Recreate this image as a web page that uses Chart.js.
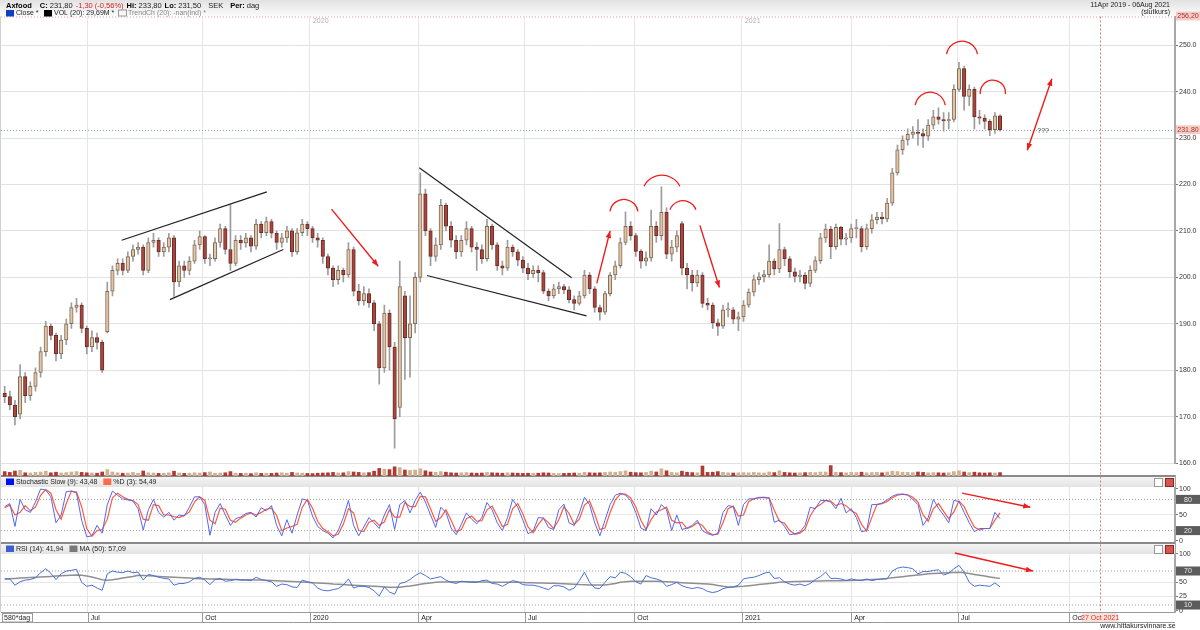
<!DOCTYPE html>
<html>
<head>
<meta charset="utf-8">
<script src="https://cdn.jsdelivr.net/npm/chart.js@4.4.1/dist/chart.umd.min.js"></script>
<style>
html, body { margin: 0; padding: 0; background: #fff; }
</style>
</head>
<body>
<canvas id="myChart" width="1200" height="630"></canvas>
<script>
// Axfood, 3-day candles, 11 Apr 2019 - 06 Aug 2021
const opens = [
  175.0,174.3,172.5,170.5,178.6,174.5,176.5,179.5,184.0,189.5,
  187.5,183.5,186.5,190.0,193.5,194.0,189.0,185.0,187.0,186.0,
  188.3,197.0,201.5,203.0,201.5,204.5,206.0,206.5,201.5,207.5,
  208.0,205.5,206.5,208.5,199.0,202.5,201.5,203.5,207.0,208.8,
  204.0,204.0,207.5,210.5,206.0,203.0,208.0,207.4,208.5,206.7,
  211.5,209.6,212.0,209.5,207.5,208.5,210.0,205.5,209.6,211.5,
  210.5,208.5,208.0,204.5,202.0,199.5,201.5,200.5,206.0,197.0,
  195.0,196.5,194.5,190.0,180.5,192.3,185.0,172.0,196.0,187.0,
  190.0,200.0,218.0,210.0,204.5,207.0,215.5,211.0,208.0,205.5,
  208.0,210.5,206.5,206.0,204.0,211.0,207.0,202.5,202.0,206.5,
  205.5,203.7,202.0,200.8,201.5,201.0,197.0,196.0,197.5,198.0,
  197.3,195.2,194.4,196.0,200.5,197.5,193.5,192.5,196.5,200.5,
  202.5,207.5,211.0,209.0,205.6,203.5,204.2,211.0,209.0,214.0,
  205.0,206.5,211.6,202.0,200.5,198.8,200.5,194.4,194.0,190.2,
  189.5,193.0,193.0,191.0,191.5,194.0,196.8,199.5,200.1,200.6,
  203.5,201.8,206.0,204.0,201.2,200.2,200.5,198.7,201.5,203.6,
  208.5,210.4,206.6,210.8,208.2,208.5,210.5,210.5,206.6,210.5,
  212.4,213.0,212.6,216.0,222.5,227.5,229.6,230.8,231.3,231.0,
  230.4,232.8,234.6,234.0,233.7,234.0,240.5,245.0,239.0,240.5,
  234.6,234.3,233.6,231.8,234.8
];
const closes = [
  174.3,172.5,170.0,178.6,174.5,176.5,179.5,184.0,189.5,187.5,
  183.5,186.5,190.0,193.5,194.0,189.0,185.0,187.0,186.0,180.0,
  197.0,201.5,203.0,201.5,204.5,206.0,206.5,201.5,207.5,208.0,
  205.5,206.5,208.5,199.0,202.5,201.5,203.5,207.0,208.8,204.0,
  204.0,207.5,210.5,206.0,203.0,208.0,207.4,208.5,206.7,211.5,
  209.6,212.0,209.5,207.5,208.5,210.0,205.5,209.6,211.5,210.5,
  208.5,208.0,204.5,202.0,199.5,201.5,200.5,206.0,197.0,195.0,
  196.5,194.5,190.0,180.5,192.3,185.0,169.5,198.0,187.0,190.0,
  200.0,218.0,210.0,204.5,207.0,215.5,211.0,208.0,205.5,208.0,
  210.5,206.5,206.0,204.0,211.0,207.0,202.5,202.0,206.5,205.5,
  203.7,202.0,200.8,201.5,201.0,197.0,196.0,197.5,198.0,197.3,
  195.2,194.4,196.0,200.5,197.5,193.5,192.5,196.5,200.5,202.5,
  207.5,211.0,209.0,205.6,203.5,204.2,211.0,209.0,214.0,205.0,
  206.5,209.0,202.0,200.5,198.8,200.5,194.4,194.0,190.2,189.5,
  193.0,193.0,191.0,191.5,194.0,196.8,199.5,200.1,200.6,203.5,
  201.8,206.0,204.0,201.2,200.2,200.5,198.7,201.5,203.6,208.5,
  210.4,206.6,210.8,208.2,208.5,210.5,210.5,206.6,210.5,212.4,
  213.0,212.6,216.0,222.5,227.5,229.6,230.8,231.3,231.0,230.4,
  232.8,234.6,234.0,233.7,234.0,240.5,245.0,239.0,240.5,234.6,
  234.3,233.6,231.8,234.8,231.8
];
const highs = [
  176.5,175.5,173.5,181.2,179.5,177.5,180.5,185.0,190.5,190.0,
  188.0,187.5,191.0,194.5,195.5,194.5,189.5,188.5,188.0,186.5,
  199.0,202.5,204.0,204.0,205.5,207.0,207.5,207.0,208.5,209.5,
  208.5,207.5,209.5,209.0,203.5,203.5,204.5,208.0,210.0,209.0,
  205.0,208.5,211.5,211.0,215.7,209.0,209.0,209.5,209.0,212.5,
  212.0,213.0,212.5,210.0,209.5,211.0,210.5,210.5,212.5,212.0,
  211.0,209.5,208.5,205.0,202.5,202.5,202.0,207.5,206.5,198.5,
  198.0,197.5,195.0,190.5,194.0,193.0,186.0,203.5,197.0,196.0,
  201.0,222.5,219.0,210.5,208.5,216.8,216.0,212.0,209.0,209.0,
  212.0,211.0,207.5,207.0,212.5,211.5,207.5,203.5,208.0,207.0,
  206.0,204.5,203.0,202.5,202.5,201.5,197.5,198.5,199.0,198.5,
  198.0,196.0,197.0,201.5,201.0,198.0,194.0,197.0,201.0,203.5,
  208.5,214.1,212.0,209.5,206.0,205.5,214.5,212.0,219.5,215.0,
  208.0,210.0,212.0,203.0,201.5,201.5,201.0,195.5,194.5,191.0,
  194.0,194.5,193.5,192.5,195.0,197.5,200.5,201.0,201.5,207.0,
  204.0,211.6,206.5,204.5,202.0,201.5,201.0,202.5,204.5,209.5,
  211.5,211.0,211.5,211.0,209.5,211.5,212.5,211.0,211.5,213.5,
  214.0,214.0,217.0,223.5,228.5,230.5,232.0,232.5,234.0,232.0,
  234.0,236.0,236.5,235.5,235.5,241.5,246.3,245.5,241.5,241.0,
  236.0,235.0,234.0,235.5,235.0
];
const lows = [
  173.0,171.5,168.2,169.5,173.0,173.5,175.5,178.5,183.0,186.5,
  182.0,182.5,185.5,189.0,192.5,188.0,183.5,184.0,184.5,179.5,
  188.0,196.0,200.5,200.5,201.0,203.5,205.0,200.5,201.0,206.5,
  204.5,204.5,205.5,195.9,198.0,200.0,200.5,203.0,206.0,203.0,
  202.5,203.5,206.5,205.0,201.5,202.5,206.0,206.5,205.5,206.0,
  208.5,209.0,208.5,206.0,206.5,207.5,204.5,205.0,209.0,209.0,
  207.5,206.5,203.0,200.5,198.0,198.5,199.0,200.0,196.0,194.0,
  194.0,193.5,188.5,177.0,179.5,180.0,163.2,170.0,178.0,178.5,
  188.0,199.0,209.0,202.5,203.5,206.0,210.0,206.5,204.0,204.5,
  207.0,205.5,201.5,203.0,203.5,206.0,201.5,200.5,201.5,204.5,
  202.5,201.0,199.5,200.0,199.0,196.5,195.0,195.5,196.5,196.5,
  194.5,193.0,194.0,195.5,196.5,192.5,190.8,192.0,196.0,199.5,
  202.0,207.0,208.0,204.5,202.0,202.5,203.5,207.5,208.0,204.0,
  203.5,205.5,200.5,197.5,197.0,198.0,193.5,193.0,189.0,187.5,
  189.0,191.5,190.0,188.5,190.5,193.5,196.0,198.5,199.0,200.0,
  200.5,201.0,202.5,200.0,199.0,199.0,197.5,198.0,201.0,203.0,
  207.5,204.0,206.0,207.0,207.0,207.5,208.5,205.5,206.0,209.5,
  211.5,211.5,212.0,215.5,222.0,226.5,228.5,230.0,228.5,228.0,
  229.5,232.0,233.0,231.5,232.0,233.5,240.0,236.0,237.0,232.0,
  233.0,232.0,230.5,231.0,231.5
];
const volumes = [
  2.2,1.8,2.5,2.8,1.6,1.5,1.8,2.0,2.4,1.6,
  1.9,1.5,1.7,2.0,2.2,1.8,1.6,1.5,1.4,2.0,
  3.2,2.0,1.6,1.4,1.5,1.8,1.4,2.5,1.6,1.5,
  1.3,1.4,1.6,2.4,1.5,1.3,1.4,1.6,1.5,1.7,
  2.0,1.4,1.5,1.6,2.2,1.4,1.3,1.4,1.2,1.6,
  1.3,1.4,1.3,1.5,1.6,1.4,1.8,1.5,1.4,1.3,
  1.2,1.4,1.5,1.6,1.8,1.5,1.6,2.2,2.0,1.8,
  1.6,1.7,2.4,3.8,3.4,3.2,4.6,4.2,3.0,2.8,
  3.0,3.6,2.6,2.0,1.8,2.2,1.9,1.6,1.5,1.6,
  1.7,1.5,1.4,1.5,1.8,1.6,1.5,1.4,1.6,1.5,
  1.4,1.3,1.4,1.3,1.4,1.6,1.5,1.3,1.2,1.3,
  1.4,1.5,1.4,1.8,1.6,1.5,1.6,1.8,2.0,1.9,
  2.2,2.6,1.9,1.7,1.6,1.8,2.4,2.0,3.6,2.6,
  1.8,1.6,2.4,1.9,1.7,1.6,5.0,1.8,1.9,2.2,
  1.8,1.6,1.5,1.6,1.7,1.6,1.8,1.6,1.5,2.0,
  1.7,2.6,1.8,1.6,1.5,1.6,1.7,1.8,1.7,2.0,
  2.0,5.2,1.8,1.7,1.6,1.8,1.7,1.9,1.6,1.7,
  1.8,1.6,2.0,2.4,2.2,1.9,1.8,1.7,2.0,1.8,
  1.6,1.7,1.6,1.5,1.6,2.2,2.6,2.0,1.7,1.9,
  1.6,1.5,1.6,1.5,1.7
];
const stochK = [
  66,72,28,80,60,55,75,100,98,85,
  35,50,95,96,92,40,8,10,30,15,
  70,96,88,81,79,77,62,21,60,80,
  55,46,55,40,50,48,65,85,85,70,
  11,55,72,50,30,43,46,53,55,46,
  64,58,68,30,10,41,15,50,81,78,
  48,28,20,15,6,20,45,78,30,10,
  27,45,35,24,50,70,22,70,78,54,
  78,94,75,50,26,65,55,25,12,32,
  54,42,33,45,74,60,35,20,45,80,
  65,40,14,19,45,44,26,22,60,71,
  35,30,54,84,70,35,10,40,70,88,
  92,88,78,55,25,20,62,50,70,60,
  20,50,22,25,30,40,20,14,11,15,
  55,68,66,30,70,81,81,84,84,82,
  36,40,28,12,14,17,30,65,62,78,
  78,75,62,82,54,62,45,18,20,70,
  70,73,79,86,90,90,88,80,70,30,
  45,80,63,50,35,78,76,55,35,18,
  24,24,24,55,43
];
const stochD = [
  64,69,50,55,68,58,65,88,99,92,
  60,42,72,96,94,66,24,9,20,22,
  42,83,92,85,80,78,70,42,40,70,
  68,50,50,47,45,49,56,75,85,78,
  40,33,63,61,40,36,44,50,54,50,
  55,61,63,49,20,25,28,32,65,80,
  63,38,24,18,10,13,32,62,54,20,
  18,36,40,30,37,60,46,46,74,66,
  66,86,85,62,38,45,60,40,18,22,
  43,48,38,39,60,67,48,28,32,62,
  72,52,27,16,32,44,35,24,41,66,
  53,32,42,69,77,52,22,25,55,79,
  90,90,83,66,40,22,41,56,60,65,
  40,35,36,24,28,35,30,17,12,13,
  35,62,67,48,50,76,81,83,84,83,
  59,38,34,20,13,15,23,48,64,70,
  78,77,68,72,68,58,53,32,19,45,
  70,72,76,83,88,90,89,84,75,50,
  38,62,72,57,43,56,77,66,45,27,
  21,24,24,40,54
];
const rsi = [
  56,56,45,51,54,55,58,67,74,66,
  55,65,70,71,73,50,43,45,40,36,
  65,70,68,67,70,67,68,54,64,62,
  59,57,56,45,48,48,51,57,59,54,
  46,55,57,52,53,55,54,54,53,59,
  55,53,51,43,47,46,42,41,54,51,
  49,40,36,35,37,39,45,56,40,43,
  43,41,35,26,42,33,29,48,50,55,
  62,67,62,56,58,60,54,50,48,52,
  51,50,50,53,54,48,47,43,48,53,
  51,46,45,45,43,40,37,44,44,42,
  36,40,53,68,50,40,39,50,60,58,
  68,66,60,51,47,62,58,56,53,43,
  46,50,44,41,39,41,39,34,32,34,
  39,41,42,45,56,58,59,62,66,68,
  57,58,51,47,45,47,44,48,55,60,
  68,57,57,56,53,56,54,53,56,53,
  55,56,56,70,75,77,76,74,65,69,
  69,71,72,63,66,74,80,68,50,43,
  45,44,43,49,42
];
const rsiMa = [
  56,56.5,57,57.5,58,58.5,59,59.5,60,60.5,
  61,61.5,62,62.5,63,62.5,61,59.5,57,54.5,
  53.5,54.5,56,57.5,59,60.5,62.5,62,61.5,61,
  60.5,60,59.5,59,58.5,58,57.5,57,56.5,56.2,
  56,55.8,55.6,55.4,55.2,55,54.8,54.6,54.4,54.2,
  54,53.7,53.4,53,52.5,52,51.5,51,50.5,50,
  49.5,49,48.5,48,47,46.5,46,45.5,45,44.5,
  44,43.5,43,42.5,42,41.5,41.3,41.5,42.5,43.5,
  45,46.5,48,49,50,50.5,50.8,51,51,51,
  51,51,51,50.8,50.5,50.3,50.2,50,50,50,
  50,49.8,49.5,49.3,49,48.8,48.5,48.2,48,47.5,
  47,46.5,46,45.8,45.5,45.3,45.2,45.5,46.5,48,
  50,51,52,52,52,52,52,51.8,51.5,51,
  50.5,50,49.5,49,48.5,48,47.5,47,46,44.5,
  43,42,42,42.5,43,44,45,46,47,48,
  49,50,50.5,51,51.3,51.5,51.8,52,52.2,52.5,
  52.7,53,53,53,53.2,53.4,53.6,54,54.5,55,
  55.5,56,57,58,59,60,61,62,63,64,
  65,65.5,66,66.5,67,67.5,68,67,65.5,64,
  62.5,61,59.5,58,57
];

// x axis: candle index of each quarter start
const tickPos = [16.2, 38.5, 59.5, 80.6, 101.4, 122.7, 143.7, 165, 185.8, 207.5];
const tickLabels = ['Jul', 'Oct', '2020', 'Apr', 'Jul', 'Oct', '2021', 'Apr', 'Jul', 'Oct'];
const yearMarks = [[59.5, '2020'], [143.7, '2021']];
const priceTicks = [160, 170, 180, 190, 200, 210, 220, 230, 240, 250];
const stochTicks = [0, 20, 50, 80, 100];
const rsiTicks = [0, 10, 25, 50, 70, 100];
const lastClose = 231.8;
const topPrice = 256.2;
const futureMark = 213.5; // 27 Oct 2021

// drawn annotations, in (candle index, value)
const trendLines = [
  [22.8, 208.0, 51.1, 218.4],
  [32.2, 195.2, 54.3, 206.0],
  [80.8, 223.6, 110.5, 199.9],
  [82.3, 200.4, 113.4, 191.7]
];
const priceArrows = [
  [63.7, 214.7, 72.8, 202.4, false],
  [115.4, 198.7, 118.0, 210.0, false],
  [135.5, 211.2, 139.3, 197.8, false],
  [199.3, 227.4, 204.1, 242.8, true]
];
const topArcs = [ // index, price at top, half width px, depth px
  [120.7, 216.8, 14, 12],
  [128.1, 222.0, 18, 11],
  [132.2, 216.5, 13, 9],
  [180.4, 239.9, 15, 13],
  [186.6, 250.9, 15.5, 13],
  [192.6, 242.5, 12.5, 14]
];
const stochArrow = [186.6, 92, 199.9, 65];
const rsiArrow = [185.2, 101.8, 200.4, 70];

const FONT = '"Liberation Sans", Arial, sans-serif';
Chart.defaults.font.family = FONT;
Chart.defaults.font.size = 7;
Chart.defaults.color = '#333';

const idx = closes.map((c, i) => i);
const isUp = idx.map(i => closes[i] >= opens[i]);

function dotted(ctx, x1, y1, x2, y2, color, dash) {
  ctx.save();
  ctx.strokeStyle = color;
  ctx.lineWidth = 1;
  ctx.setLineDash(dash || [1, 2]);
  ctx.beginPath();
  ctx.moveTo(x1, y1);
  ctx.lineTo(x2, y2);
  ctx.stroke();
  ctx.restore();
}

function head(ctx, x1, y1, x2, y2) {
  const a = Math.atan2(y2 - y1, x2 - x1), L = 7, W = 2.8;
  ctx.beginPath();
  ctx.moveTo(x2, y2);
  ctx.lineTo(x2 - L * Math.cos(a) + W * Math.sin(a), y2 - L * Math.sin(a) - W * Math.cos(a));
  ctx.lineTo(x2 - L * Math.cos(a) - W * Math.sin(a), y2 - L * Math.sin(a) + W * Math.cos(a));
  ctx.closePath();
  ctx.fill();
}

function arrow(ctx, x1, y1, x2, y2, both) {
  ctx.beginPath();
  ctx.moveTo(x1, y1);
  ctx.lineTo(x2, y2);
  ctx.stroke();
  head(ctx, x1, y1, x2, y2);
  if (both) head(ctx, x2, y2, x1, y1);
}

function strip(ctx, left, right, top) {
  const g = ctx.createLinearGradient(0, top, 0, top + 11);
  g.addColorStop(0, '#f6f6f6');
  g.addColorStop(1, '#e3e3e3');
  ctx.fillStyle = g;
  ctx.fillRect(left, top, right - left, 11);
  ctx.fillStyle = '#8a8a8a';
  ctx.fillRect(left - 1, top - 1, right - left + 1, 2);
  // little buttons at the right
  ctx.fillStyle = '#fff';
  ctx.strokeStyle = '#999';
  ctx.lineWidth = 1;
  ctx.fillRect(right - 21, top + 2.5, 8, 8);
  ctx.strokeRect(right - 20.5, top + 2.5, 8, 8);
  ctx.fillStyle = '#d9534f';
  ctx.fillRect(right - 10, top + 2.5, 8, 8);
  ctx.strokeStyle = '#8a2a26';
  ctx.strokeRect(right - 9.5, top + 2.5, 8, 8);
}

function legendItem(ctx, x, y, color, text, hollow) {
  if (hollow) {
    ctx.strokeStyle = '#999';
    ctx.strokeRect(x + 0.5, y - 3.5, 8, 6);
  } else {
    ctx.fillStyle = color;
    ctx.fillRect(x, y - 3.5, 8, 6.5);
  }
  ctx.fillStyle = '#222';
  ctx.fillText(text, x + 10, y);
  return x + 10 + ctx.measureText(text).width;
}

function badge(ctx, x, y, text, bg, fg) {
  ctx.fillStyle = bg;
  ctx.fillRect(x, y - 4.5, 1200 - x, 9);
  ctx.fillStyle = fg;
  ctx.textAlign = 'center';
  ctx.fillText(text, x + (1200 - x) / 2, y + 0.5);
  ctx.textAlign = 'left';
}

const decor = {
  id: 'decor',
  beforeDatasetsDraw(chart) {
    const { ctx, chartArea: a, scales } = chart;
    const x = scales.x, yP = scales.y, yS = scales.yStoch, yR = scales.yRsi;
    ctx.save();
    // level lines
    dotted(ctx, a.left, yS.getPixelForValue(80), a.right, yS.getPixelForValue(80), '#9c9c9c');
    dotted(ctx, a.left, yS.getPixelForValue(20), a.right, yS.getPixelForValue(20), '#9c9c9c');
    dotted(ctx, a.left, yR.getPixelForValue(70), a.right, yR.getPixelForValue(70), '#9c9c9c');
    dotted(ctx, a.left, yR.getPixelForValue(10), a.right, yR.getPixelForValue(10), '#9c9c9c');
    const yc = Math.round(yP.getPixelForValue(lastClose)) + 0.5;
    dotted(ctx, a.left, yc, a.right, yc, '#8fa3a3');
    dotted(ctx, a.left, yP.top + 0.5, a.right, yP.top + 0.5, '#e39a9a');
    // pane header strips
    strip(ctx, a.left, a.right, yS.top);
    strip(ctx, a.left, a.right, yR.top);
    ctx.font = '7px ' + FONT;
    ctx.textBaseline = 'middle';
    let lx = legendItem(ctx, 6, yS.top + 6, '#0010f0', 'Stochastic Slow (9): 43,48');
    legendItem(ctx, lx + 6, yS.top + 6, '#ff6a4c', '%D (3): 54,49');
    lx = legendItem(ctx, 6, yR.top + 6, '#3f5fd0', 'RSI (14): 41,94');
    legendItem(ctx, lx + 6, yR.top + 6, '#7a7a7a', 'MA (50): 57,09');
    // year labels at the top of the price pane
    ctx.fillStyle = '#b0b0b0';
    yearMarks.forEach(([k, t]) => ctx.fillText(t, x.getPixelForValue(k) + 3, yP.top + 5));
    // future date line
    const xf = Math.round(x.getPixelForValue(futureMark)) + 0.5;
    dotted(ctx, xf, a.top, xf, a.bottom + 10, '#e07a7a', [2, 2]);
    ctx.restore();
  },
  afterDatasetsDraw(chart) {
    const { ctx, chartArea: a, scales } = chart;
    const x = scales.x, yP = scales.y, yS = scales.yStoch, yR = scales.yRsi;
    ctx.save();
    // trend channels
    ctx.strokeStyle = '#222';
    ctx.lineWidth = 1.2;
    trendLines.forEach(([k1, p1, k2, p2]) => {
      ctx.beginPath();
      ctx.moveTo(x.getPixelForValue(k1), yP.getPixelForValue(p1));
      ctx.lineTo(x.getPixelForValue(k2), yP.getPixelForValue(p2));
      ctx.stroke();
    });
    // red arrows
    ctx.strokeStyle = '#ee1c1c';
    ctx.fillStyle = '#ee1c1c';
    ctx.lineWidth = 1.4;
    priceArrows.forEach(([k1, p1, k2, p2, both]) => {
      arrow(ctx, x.getPixelForValue(k1), yP.getPixelForValue(p1), x.getPixelForValue(k2), yP.getPixelForValue(p2), both);
    });
    arrow(ctx, x.getPixelForValue(stochArrow[0]), yS.getPixelForValue(stochArrow[1]),
      x.getPixelForValue(stochArrow[2]), yS.getPixelForValue(stochArrow[3]), false);
    arrow(ctx, x.getPixelForValue(rsiArrow[0]), yR.getPixelForValue(rsiArrow[1]),
      x.getPixelForValue(rsiArrow[2]), yR.getPixelForValue(rsiArrow[3]), false);
    // arcs over the tops
    ctx.lineWidth = 1.3;
    topArcs.forEach(([k, p, w, d]) => {
      const cx = x.getPixelForValue(k), ty = yP.getPixelForValue(p);
      const r = (w * w + d * d) / (2 * d);
      const cy = ty + r;
      ctx.beginPath();
      ctx.arc(cx, cy, r, Math.atan2(d - r, -w), Math.atan2(d - r, w), false);
      ctx.stroke();
    });
    ctx.font = '7px ' + FONT;
    ctx.textBaseline = 'middle';
    ctx.fillStyle = '#444';
    ctx.textAlign = 'center';
    ctx.fillText('???', x.getPixelForValue(202.4), yP.getPixelForValue(231.5));
    ctx.textAlign = 'left';
    ctx.restore();
  },
  afterDraw(chart) {
    const { ctx, chartArea: a, scales } = chart;
    const x = scales.x, yP = scales.y, yS = scales.yStoch, yR = scales.yRsi;
    ctx.save();
    ctx.font = '7px ' + FONT;
    ctx.textBaseline = 'middle';
    // header
    const g = ctx.createLinearGradient(0, 0, 0, 16);
    g.addColorStop(0, '#e2e2e2');
    g.addColorStop(1, '#fbfbfb');
    ctx.fillStyle = g;
    ctx.fillRect(0, 0, 1200, 16);
    const parts = [ // text, colour, bold, gap after
      ['Axfood', '#000', true, 8], ['C:', '#000', true, 2], ['231,80', '#222', false, 3],
      ['-1,30 (-0,56%)', '#e02020', false, 3], ['Hi:', '#000', true, 2], ['233,80', '#222', false, 3],
      ['Lo:', '#000', true, 2], ['231,50', '#222', false, 7], ['SEK', '#222', false, 7],
      ['Per:', '#000', true, 2], ['dag', '#222', false, 0]
    ];
    let hx = 6;
    parts.forEach(([t, c, b, gap]) => {
      ctx.font = (b ? 'bold 7.5px ' : '7.5px ') + FONT;
      ctx.fillStyle = c;
      ctx.fillText(t, hx, 5.5);
      hx += ctx.measureText(t).width + gap;
    });
    ctx.font = '7px ' + FONT;
    legendItem(ctx, 6, 13.5, '#1040c0', 'Close *');
    legendItem(ctx, 44, 13.5, '#000', 'VOL (20): 29,69M *');
    legendItem(ctx, 118, 13.5, '#888', '', true);
    ctx.fillStyle = '#888';
    ctx.fillText('TrendCh (20): -nan(ind) *', 128, 13.5);
    ctx.fillStyle = '#222';
    ctx.textAlign = 'right';
    ctx.fillText('11Apr 2019 - 06Aug 2021', 1170, 5);
    ctx.fillText('(slutkurs)', 1170, 12.5);
    ctx.textAlign = 'left';
    // axis badges
    badge(ctx, a.right + 1, yS.getPixelForValue(80), '80', '#5c5c5c', '#eee');
    badge(ctx, a.right + 1, yS.getPixelForValue(20), '20', '#5c5c5c', '#eee');
    badge(ctx, a.right + 1, yR.getPixelForValue(70), '70', '#5c5c5c', '#eee');
    badge(ctx, a.right + 1, yR.getPixelForValue(10), '10', '#5c5c5c', '#eee');
    badge(ctx, a.right + 1, yP.getPixelForValue(lastClose), '231,80', '#f5cdc8', '#a8322a');
    badge(ctx, a.right + 1, yP.getPixelForValue(topPrice) - 0.5, '256,20', '#f5cdc8', '#a8322a');
    // x axis strip
    const sb = a.bottom + 10;
    ctx.strokeStyle = '#9a9a9a';
    ctx.lineWidth = 1;
    ctx.beginPath();
    ctx.moveTo(0, sb + 0.5);
    ctx.lineTo(a.right, sb + 0.5);
    tickPos.forEach(k => {
      const px = Math.round(x.getPixelForValue(k)) + 0.5;
      ctx.moveTo(px, a.bottom);
      ctx.lineTo(px, sb);
    });
    ctx.stroke();
    ctx.fillStyle = '#fff';
    ctx.fillRect(2, a.bottom + 1, 30, 9);
    ctx.strokeRect(2.5, a.bottom + 1.5, 30, 8.5);
    ctx.fillStyle = '#222';
    ctx.fillText('580*dag', 4, a.bottom + 6);
    const xf = x.getPixelForValue(futureMark);
    ctx.fillStyle = '#fbe0dc';
    ctx.fillRect(xf - 18, a.bottom + 1, 36, 9);
    ctx.fillStyle = '#d23a2a';
    ctx.textAlign = 'center';
    ctx.fillText('27 Oct 2021', xf, a.bottom + 6);
    // left frame + watermark
    ctx.fillStyle = '#222';
    ctx.fillText('www.hittakursvinnare.se', 1138, 626);
    ctx.strokeStyle = '#d0d0d0';
    ctx.beginPath();
    ctx.moveTo(a.left - 0.5, a.top);
    ctx.lineTo(a.left - 0.5, a.bottom);
    ctx.stroke();
    ctx.restore();
  }
};

const fixedWidth = s => { s.width = 25; };
const yCommon = {
  position: 'right',
  stack: 'panes',
  border: { color: '#a8a8a8', width: 2 },
  afterFit: fixedWidth
};

const ctx = document.getElementById('myChart').getContext('2d');
const myChart = new Chart(ctx, {
  type: 'bar',
  data: {
    datasets: [
      {
        label: 'Body',
        data: idx.map(i => ({ x: i, y: [opens[i], closes[i]] })),
        yAxisID: 'y',
        backgroundColor: idx.map(i => isUp[i] ? '#e4c6a6' : '#a9463d'),
        borderColor: idx.map(i => isUp[i] ? '#7d6a58' : '#6a2c26'),
        borderWidth: 1,
        borderSkipped: false,
        barThickness: 3.5,
        minBarLength: 1,
        grouped: false
      },
      {
        label: 'Wick',
        data: idx.map(i => ({ x: i, y: [lows[i], highs[i]] })),
        yAxisID: 'y',
        backgroundColor: '#9c9c9c',
        barThickness: 1,
        grouped: false
      },
      {
        label: 'VOL (20)',
        data: idx.map(i => ({ x: i, y: volumes[i] })),
        yAxisID: 'yVol',
        backgroundColor: idx.map(i => isUp[i] ? '#cfb08f' : '#b03a32'),
        barThickness: 3,
        grouped: false
      },
      {
        type: 'line',
        label: 'Stochastic Slow (9)',
        data: idx.map(i => ({ x: i, y: stochK[i] })),
        yAxisID: 'yStoch',
        borderColor: '#5566f2',
        borderWidth: 1,
        pointRadius: 0
      },
      {
        type: 'line',
        label: '%D (3)',
        data: idx.map(i => ({ x: i, y: stochD[i] })),
        yAxisID: 'yStoch',
        borderColor: '#ff5a3a',
        borderWidth: 1.2,
        pointRadius: 0
      },
      {
        type: 'line',
        label: 'RSI (14)',
        data: idx.map(i => ({ x: i, y: rsi[i] })),
        yAxisID: 'yRsi',
        borderColor: '#4a6fd8',
        borderWidth: 1,
        pointRadius: 0
      },
      {
        type: 'line',
        label: 'MA (50)',
        data: idx.map(i => ({ x: i, y: rsiMa[i] })),
        yAxisID: 'yRsi',
        borderColor: '#8f8f8f',
        borderWidth: 1.5,
        pointRadius: 0
      }
    ]
  },
  options: {
    responsive: false,
    animation: false,
    layout: { padding: { top: 16.5, left: 1, right: 0, bottom: 8 } },
    plugins: { legend: { display: false }, tooltip: { enabled: false } },
    scales: {
      x: {
        type: 'linear',
        min: -0.72,
        max: 228.1,
        offset: false,
        grid: { offset: false, color: '#e6e6e6', drawTicks: false },
        border: { color: '#9a9a9a' },
        afterBuildTicks: s => { s.ticks = tickPos.map(v => ({ value: v })); },
        afterFit: s => { s.height = 10; },
        ticks: {
          autoSkip: false,
          maxRotation: 0,
          align: 'start',
          labelOffset: 3,
          padding: 1.5,
          color: '#222',
          callback: (v, i) => tickLabels[i]
        }
      },
      y: {
        ...yCommon,
        weight: 1,
        stackWeight: 446.5,
        min: 160,
        max: topPrice,
        afterBuildTicks: s => { s.ticks = priceTicks.map(v => ({ value: v })); },
        grid: { color: '#e2e2e2', tickLength: 3, tickColor: '#777' },
        ticks: { autoSkip: false, padding: 1, callback: v => v.toFixed(1) }
      },
      yVol: {
        ...yCommon,
        weight: 2,
        stackWeight: 13,
        min: 0,
        max: 6.5,
        border: { display: false },
        grid: { display: false },
        ticks: { display: false }
      },
      yStoch: {
        ...yCommon,
        weight: 3,
        stackWeight: 67,
        min: -3.85,
        max: 125,
        afterBuildTicks: s => { s.ticks = stochTicks.map(v => ({ value: v })); },
        grid: {
          color: c => c.tick && c.tick.value === 50 ? '#e8e8e8' : 'rgba(0,0,0,0)',
          tickLength: 3,
          tickColor: '#777'
        },
        ticks: { autoSkip: false, padding: 1, callback: v => (v === 20 || v === 80) ? '' : String(v) }
      },
      yRsi: {
        ...yCommon,
        weight: 4,
        stackWeight: 69,
        min: -2.3,
        max: 119.4,
        afterBuildTicks: s => { s.ticks = rsiTicks.map(v => ({ value: v })); },
        grid: {
          color: c => c.tick && (c.tick.value === 50 || c.tick.value === 25) ? '#e8e8e8' : 'rgba(0,0,0,0)',
          tickLength: 3,
          tickColor: '#777'
        },
        ticks: { autoSkip: false, padding: 1, callback: v => (v === 10 || v === 70) ? '' : String(v) }
      }
    }
  },
  plugins: [decor]
});
</script>
</body>
</html>
